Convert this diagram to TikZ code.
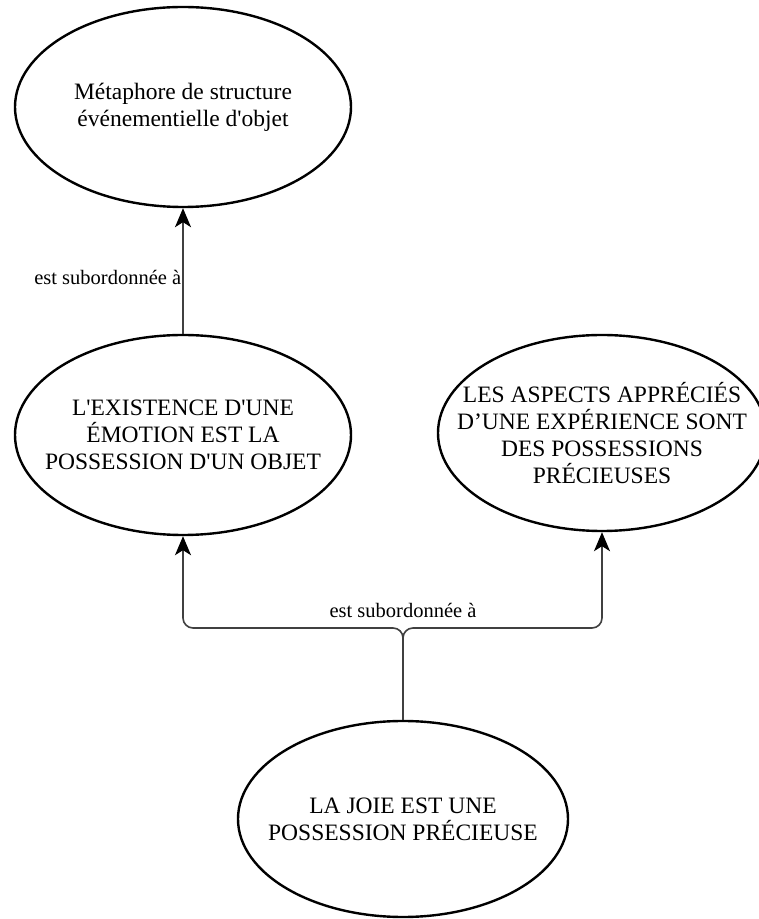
\documentclass[tikz,border=0pt]{standalone}
\usepackage{fontspec}
\setmainfont{Liberation Serif}
\usetikzlibrary{shapes.geometric,arrows.meta,positioning}
\def\textenoeud{\fontsize{23.5}{27}\selectfont}
\def\texteetiq{\fontsize{20.5}{24}\selectfont}
\def\apos{\textquotesingle}

\begin{document}
\begin{tikzpicture}[x=1pt,y=1pt,
    bulle/.style={ellipse,draw,line width=2.4pt,inner sep=0pt},
    texte/.style={align=center,inner sep=0pt,font=\textenoeud},
    fleche/.style={draw=black!75,line width=1.6pt,arrows={-Stealth[length=19pt,width=16pt,inset=5pt,color=black]}},
    etiquette/.style={inner sep=1pt,font=\texteetiq}]
  \useasboundingbox (0,0) rectangle (759,919);
  \node[bulle,minimum width=336,minimum height=200] (metaphore) at (183,812) {};
  \node[texte] at (metaphore) {Métaphore de structure\\événementielle d\apos objet};
  \node[bulle,minimum width=336,minimum height=200] (existence) at (183,484) {};
  \node[texte] at (existence) {L\apos EXISTENCE D\apos UNE\\ÉMOTION EST LA\\POSSESSION D\apos UN OBJET};
  \node[bulle,minimum width=328,minimum height=196] (aspects) at (602,486) {};
  \node[texte] at (aspects) {LES ASPECTS APPRÉCIÉS\\D’UNE EXPÉRIENCE SONT\\DES POSSESSIONS\\PRÉCIEUSES};
  \node[bulle,minimum width=330,minimum height=196] (joie) at (403,100) {};
  \node[texte] at (joie) {LA JOIE EST UNE\\POSSESSION PRÉCIEUSE};
  \coordinate (fourche) at (403,291);
  % liens
  \draw[fleche] (existence) -- node[etiquette,pos=0.45,left] {est subordonnée à} (metaphore);
  \draw[fleche,rounded corners=10pt] (joie.north) -- (fourche) -| (existence.south);
  \draw[fleche,rounded corners=10pt] (joie.north) -- (fourche) -| (aspects.south);
  \node[etiquette,above=9pt of fourche] (etiq2) {est subordonnée à};
\end{tikzpicture}
\end{document}
